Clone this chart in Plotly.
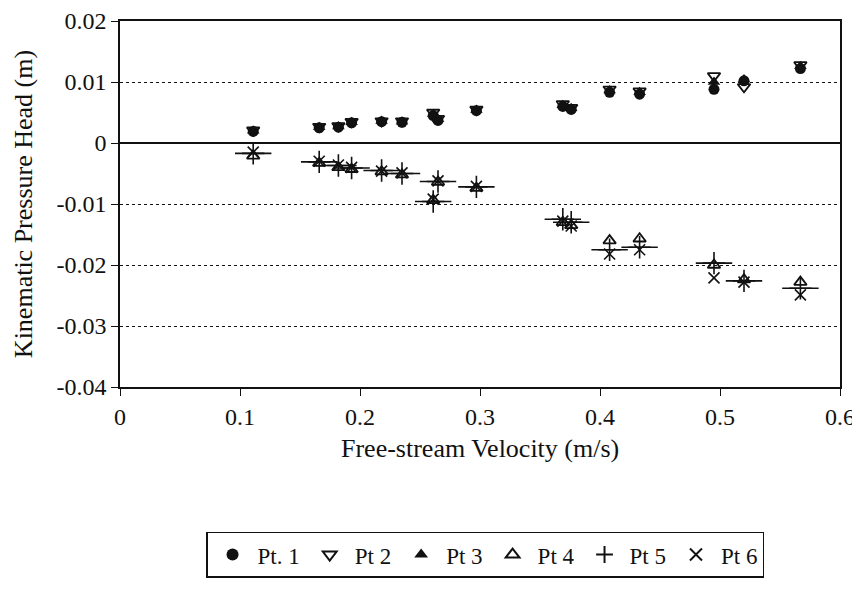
import plotly.graph_objects as go

# ---- data ----
velocity = [0.111, 0.166, 0.182, 0.193, 0.218, 0.235, 0.261, 0.265, 0.297,
            0.369, 0.376, 0.408, 0.433, 0.495, 0.520, 0.567]

pt1 = [0.0019, 0.0025, 0.0026, 0.0033, 0.0035, 0.0034, 0.0045, 0.0037, 0.0053,
       0.0060, 0.0055, 0.0083, 0.0080, 0.0088, 0.0102, 0.0122]
pt2 = [0.0021, 0.0027, 0.0028, 0.0035, 0.0036, 0.0036, 0.0050, 0.0040, 0.0055,
       0.0064, 0.0058, 0.0088, 0.0085, 0.0110, 0.0092, 0.0128]
pt3 = [0.0020, 0.0026, 0.0027, 0.0034, 0.0036, 0.0035, 0.0047, 0.0039, 0.0054,
       0.0062, 0.0057, 0.0086, 0.0083, 0.0100, 0.0104, 0.0126]
pt4 = [-0.0021, -0.0033, -0.0040, -0.0043, -0.0047, -0.0052, -0.0094, -0.0064, -0.0074,
       -0.0130, -0.0135, -0.0160, -0.0157, -0.0200, -0.0224, -0.0228]
pt5 = [-0.0017, -0.0031, -0.0037, -0.0041, -0.0045, -0.0050, -0.0096, -0.0063, -0.0072,
       -0.0125, -0.0130, -0.0175, -0.0171, -0.0197, -0.0226, -0.0238]
pt6 = [-0.0015, -0.0030, -0.0036, -0.0040, -0.0046, -0.0049, -0.0092, -0.0062, -0.0071,
       -0.0128, -0.0136, -0.0182, -0.0175, -0.0221, -0.0228, -0.0249]

x_ticks = [0, 0.1, 0.2, 0.3, 0.4, 0.5, 0.6]
x_tick_labels = ["0", "0.1", "0.2", "0.3", "0.4", "0.5", "0.6"]
y_ticks = [0.02, 0.01, 0, -0.01, -0.02, -0.03, -0.04]
y_tick_labels = ["0.02", "0.01", "0", "-0.01", "-0.02", "-0.03", "-0.04"]

FONT = "Liberation Serif, Times New Roman, serif"
BLACK = "#111111"

fig = go.Figure()

fig.add_trace(go.Scatter(x=velocity, y=pt1, mode="markers", name="Pt. 1",
                         marker=dict(symbol="circle", size=11, color=BLACK)))
fig.add_trace(go.Scatter(x=velocity, y=pt2, mode="markers", name="Pt 2",
                         marker=dict(symbol="triangle-down-open", size=11, color=BLACK,
                                     line=dict(width=1.8, color=BLACK))))
fig.add_trace(go.Scatter(x=velocity, y=pt3, mode="markers", name="Pt 3",
                         marker=dict(symbol="triangle-up", size=11, color=BLACK)))
fig.add_trace(go.Scatter(x=velocity, y=pt4, mode="markers", name="Pt 4",
                         marker=dict(symbol="triangle-up-open", size=11, color=BLACK,
                                     line=dict(width=1.8, color=BLACK))))
fig.add_trace(go.Scatter(x=velocity, y=pt5, mode="markers", name="Pt 5",
                         marker=dict(symbol="cross-thin", size=16, color=BLACK,
                                     line=dict(width=1.6, color=BLACK))))
fig.add_trace(go.Scatter(x=velocity, y=pt5, mode="markers", showlegend=False,
                         hoverinfo="skip",
                         marker=dict(symbol="line-ew", size=26, color=BLACK,
                                     line=dict(width=1.6, color=BLACK))))
fig.add_trace(go.Scatter(x=velocity, y=pt6, mode="markers", name="Pt 6",
                         marker=dict(symbol="x-thin", size=11, color=BLACK,
                                     line=dict(width=1.6, color=BLACK))))

# page body adds an 8px offset; compensate in size and margins
fig.update_layout(
    width=852, height=582,
    margin=dict(l=112, r=20, t=13, b=187),
    paper_bgcolor="white", plot_bgcolor="white",
    font=dict(family=FONT, size=24, color=BLACK),
    showlegend=True,
    legend=dict(orientation="h", x=0.507, xanchor="center", y=-0.395, yanchor="top",
                bordercolor=BLACK, borderwidth=1.5, font=dict(size=23, family=FONT),
                itemsizing="constant", itemwidth=40, tracegroupgap=0),
    annotations=[dict(text="Free-stream Velocity (m/s)", xref="paper", yref="paper",
                      x=0.5, y=-0.168, xanchor="center", yanchor="middle",
                      showarrow=False, font=dict(size=26, family=FONT, color=BLACK))],
)

fig.update_xaxes(
    range=[0, 0.6], tickvals=x_ticks, ticktext=x_tick_labels,
    showline=True, linecolor=BLACK, linewidth=1.5, mirror=True,
    ticks="outside", ticklen=7, tickcolor=BLACK, tickwidth=1,
    showgrid=False, zeroline=False, automargin=False, ticklabeloverflow="allow",
    tickfont=dict(size=24, family=FONT),
)
fig.update_yaxes(
    range=[-0.04, 0.02], tickvals=y_ticks, ticktext=y_tick_labels,
    showline=True, linecolor=BLACK, linewidth=1.5, mirror=True,
    ticks="outside", ticklen=7, tickcolor=BLACK, tickwidth=1,
    showgrid=True, gridcolor=BLACK, gridwidth=1.2, griddash="dot",
    zeroline=True, zerolinecolor=BLACK, zerolinewidth=1.6, automargin=False,
    ticklabeloverflow="allow",
    title=dict(text="Kinematic Pressure Head (m)", font=dict(size=26, family=FONT), standoff=16),
    tickfont=dict(size=24, family=FONT),
)

fig.write_html("out.html")
